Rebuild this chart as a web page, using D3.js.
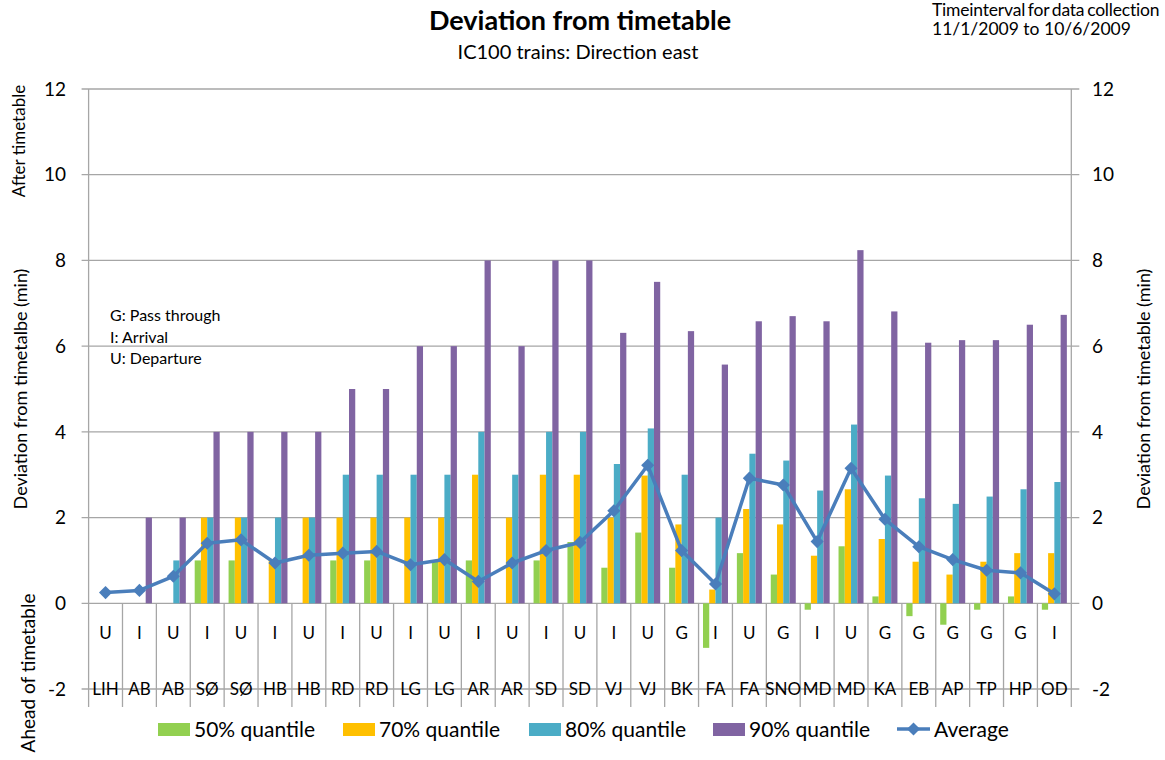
<!DOCTYPE html>
<html>
<head>
<meta charset="utf-8">
<script src="https://cdn.jsdelivr.net/npm/d3@7"></script>
<style>
  body { margin: 0; background: #fff; }
  text { font-family: Lato, "Open Sans", sans-serif; fill: #000; }
</style>
</head>
<body>
<script>
// Chart dimensions
const width = 1165;
const height = 760;

// Categories: stop type and station
const stopTypes = ["U","I","U","I","U","I","U","I","U","I","U","I","U","I","U","I","U","G","I","U","G","I","U","G","G","G","G","G","I"];
const stations = ["LIH","AB","AB","SØ","SØ","HB","HB","RD","RD","LG","LG","AR","AR","SD","SD","VJ","VJ","BK","FA","FA","SNO","MD","MD","KA","EB","AP","TP","HP","OD"];

// Series values (minutes)
const q50 = [0,0,0,1,1,0,0,1,1,0,1,1,0,1,1.43,0.83,1.65,0.83,-1.04,1.17,0.67,-0.15,1.33,0.16,-0.3,-0.5,-0.15,0.16,-0.15];
const q70 = [0,0,0,2,2,1,2,2,2,2,2,3,2,3,3,2,2.98,1.84,0.32,2.2,1.84,1.11,2.66,1.5,0.97,0.67,0.97,1.17,1.17];
const q80 = [0,0,1,2,2,2,2,3,3,3,3,4,3,4,4,3.25,4.08,3,2,3.49,3.33,2.63,4.17,2.98,2.45,2.32,2.49,2.66,2.83];
const q90 = [0,2,2,4,4,4,4,5,5,6,6,8,6,8,8,6.31,7.5,6.35,5.57,6.58,6.7,6.58,8.24,6.81,6.08,6.14,6.14,6.5,6.73];
const average = [0.25,0.3,0.63,1.4,1.48,0.94,1.12,1.17,1.21,0.9,1.02,0.51,0.94,1.23,1.42,2.16,3.22,1.23,0.45,2.92,2.76,1.44,3.15,1.96,1.32,1.02,0.77,0.71,0.22];

const seriesNames = ["50% quantile","70% quantile","80% quantile","90% quantile"];
const seriesColors = ["#92D050","#FFC000","#4BACC6","#8064A2"];
const yTicks = [-2,0,2,4,6,8,10,12];

const series = [q50, q70, q80, q90];

const svg = d3.select('body').append('svg')
    .attr("width", width)
    .attr("height", height)
    .attr("viewBox", [0, 0, width, height]);

// Scales
const x0 = d3.scaleBand()
    .domain(d3.range(stations.length))
    .range([88.6, 1071.3]);

const x1 = d3.scaleBand()
    .domain(d3.range(series.length))
    .range([0, x0.bandwidth()])
    .paddingOuter(0.71);

const y = d3.scaleLinear()
    .domain([-2, 12])
    .range([689, 89]);

const gridColor = "#a6a6a6";
const left = x0.range()[0], right = x0.range()[1];

// Gridlines + tick marks
svg.append("g")
    .selectAll("line")
    .data(yTicks)
    .enter().append("line")
    .attr("x1", left - 7)
    .attr("x2", right + 8)
    .attr("y1", d => y(d))
    .attr("y2", d => y(d))
    .attr("stroke", gridColor)
    .attr("stroke-width", 1.3);

// Axis lines left / right
[left, right].forEach(xx => {
    svg.append("line")
        .attr("x1", xx).attr("x2", xx)
        .attr("y1", y(12)).attr("y2", 707)
        .attr("stroke", gridColor)
        .attr("stroke-width", 1.3);
});

// Category separators below the zero line
svg.append("g")
    .selectAll("line")
    .data(d3.range(1, stations.length))
    .enter().append("line")
    .attr("x1", d => x0(d))
    .attr("x2", d => x0(d))
    .attr("y1", y(0))
    .attr("y2", 707)
    .attr("stroke", gridColor)
    .attr("stroke-width", 1.3);

// Bars
series.forEach((vals, s) => {
    svg.append("g")
        .selectAll("rect")
        .data(vals)
        .enter().append("rect")
        .attr("x", (d, i) => x0(i) + x1(s))
        .attr("width", x1.bandwidth())
        .attr("y", d => y(Math.max(0, d)))
        .attr("height", d => Math.abs(y(d) - y(0)))
        .attr("fill", seriesColors[s]);
});

// Average line with diamonds
const lineColor = "#4A7EBB";
const line = d3.line()
    .x((d, i) => x0(i) + x0.bandwidth() / 2)
    .y(d => y(d));

svg.append("path")
    .datum(average)
    .attr("d", line)
    .attr("fill", "none")
    .attr("stroke", lineColor)
    .attr("stroke-width", 3.5)
    .attr("stroke-linejoin", "round");

const diamond = d3.symbol().type(d3.symbolDiamond2).size(110);
svg.append("g")
    .selectAll("path")
    .data(average)
    .enter().append("path")
    .attr("d", diamond)
    .attr("transform", (d, i) => `translate(${x0(i) + x0.bandwidth() / 2},${y(d)})`)
    .attr("fill", lineColor);

// Category labels (two levels)
svg.append("g")
    .selectAll("text")
    .data(stopTypes)
    .enter().append("text")
    .attr("x", (d, i) => x0(i) + x0.bandwidth() / 2)
    .attr("y", 639)
    .attr("text-anchor", "middle")
    .attr("font-size", 17)
    .text(d => d);

svg.append("g")
    .selectAll("text")
    .data(stations)
    .enter().append("text")
    .attr("x", (d, i) => x0(i) + x0.bandwidth() / 2)
    .attr("y", 695)
    .attr("text-anchor", "middle")
    .attr("font-size", 17)
    .text(d => d);

// Y tick labels
svg.append("g")
    .selectAll("text")
    .data(yTicks)
    .enter().append("text")
    .attr("x", 66)
    .attr("y", d => y(d))
    .attr("dy", "0.35em")
    .attr("text-anchor", "end")
    .attr("font-size", 19)
    .text(d => d);

svg.append("g")
    .selectAll("text")
    .data(yTicks)
    .enter().append("text")
    .attr("x", 1092)
    .attr("y", d => y(d))
    .attr("dy", "0.35em")
    .attr("text-anchor", "start")
    .attr("font-size", 19)
    .text(d => d);

// Axis titles
function vText(x, yy, txt, size) {
    svg.append("text")
        .attr("transform", `translate(${x},${yy}) rotate(-90)`)
        .attr("text-anchor", "middle")
        .attr("font-size", size)
        .text(txt);
}
vText(25, 141, "After timetable", 17);
vText(27, 389, "Deviation from timetalbe (min)", 18);
vText(35, 673, "Ahead of timetable", 19);
vText(1150, 389, "Deviation from timetable (min)", 18);

// Titles
svg.append("text")
    .attr("x", 580).attr("y", 30)
    .attr("text-anchor", "middle")
    .attr("font-size", 27)
    .attr("font-weight", "bold")
    .text("Deviation from timetable");

svg.append("text")
    .attr("x", 578).attr("y", 59)
    .attr("text-anchor", "middle")
    .attr("font-size", 20)
    .text("IC100 trains: Direction east");

svg.append("text")
    .attr("x", 932).attr("y", 16)
    .attr("font-size", 17.5)
    .attr("letter-spacing", -0.2)
    .attr("word-spacing", -1.5)
    .text("Timeinterval for data collection");

svg.append("text")
    .attr("x", 932).attr("y", 35)
    .attr("font-size", 17.5)
    .text("11/1/2009  to 10/6/2009");

// Notes
const notes = ["G: Pass through", "I: Arrival", "U: Departure"];
svg.append("g")
    .selectAll("text")
    .data(notes)
    .enter().append("text")
    .attr("x", 110)
    .attr("y", (d, i) => 321 + i * 21.5)
    .attr("font-size", 16)
    .text(d => d);

// Legend
const legendX = [158, 343, 529, 713];
const legend = svg.append("g");
seriesNames.forEach((name, i) => {
    legend.append("rect")
        .attr("x", legendX[i]).attr("y", 723)
        .attr("width", 32).attr("height", 13)
        .attr("fill", seriesColors[i]);
    legend.append("text")
        .attr("x", legendX[i] + 36).attr("y", 737)
        .attr("font-size", 21)
        .text(name);
});
legend.append("line")
    .attr("x1", 897).attr("x2", 930)
    .attr("y1", 729).attr("y2", 729)
    .attr("stroke", lineColor)
    .attr("stroke-width", 3.5);
legend.append("path")
    .attr("d", diamond)
    .attr("transform", "translate(913.5,729)")
    .attr("fill", lineColor);
legend.append("text")
    .attr("x", 934).attr("y", 737)
    .attr("font-size", 21)
    .text("Average");
</script>
</body>
</html>
